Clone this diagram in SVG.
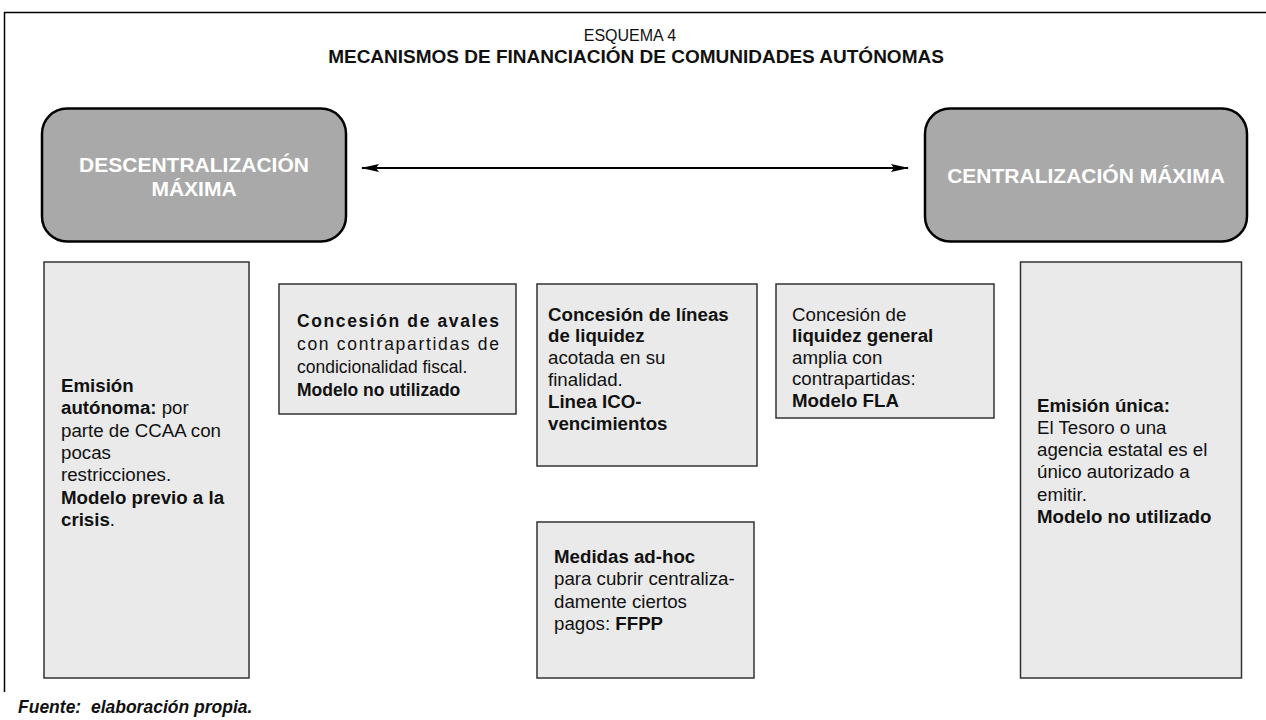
<svg xmlns="http://www.w3.org/2000/svg" width="1266" height="720" viewBox="0 0 1266 720">
<defs>
<marker id="ah" viewBox="0 0 18 8" refX="17" refY="4" markerWidth="18" markerHeight="8" markerUnits="userSpaceOnUse" orient="auto-start-reverse">
<path d="M0,0 L18,4 L0,8 L3,4 Z" fill="#000"/>
</marker>
<style>
.t{font-family:"Liberation Sans",Arial,Helvetica,sans-serif;fill:#111;font-size:18.7px}
.s{font-size:17.5px}
.b{font-weight:bold}
.big{fill:#a9a9a9;stroke:#000;stroke-width:2.5}
.box{fill:#eaeaea;stroke:#333;stroke-width:1.5}
.w{font-family:"Liberation Sans",Arial,Helvetica,sans-serif;font-weight:bold;fill:#fff;font-size:21px}
</style>
</defs>
<rect width="1266" height="720" fill="#fff"/>
<path d="M4.5,692 V12.5 H1266" fill="none" stroke="#000" stroke-width="1.5"/>
<text class="t" x="630" y="41" text-anchor="middle" style="font-size:16px">ESQUEMA 4</text>
<text class="t b" x="636" y="63" text-anchor="middle" style="font-size:19px">MECANISMOS DE FINANCIACIÓN DE COMUNIDADES AUTÓNOMAS</text>
<g id="connectors">
<line x1="362" y1="168" x2="908" y2="168" stroke="#000" stroke-width="2" marker-start="url(#ah)" marker-end="url(#ah)"/>
</g>
<g id="descentralizacion">
<rect class="big" x="42" y="108.5" width="304" height="133" rx="25"/>
<text class="w" x="194" y="172" text-anchor="middle">DESCENTRALIZACIÓN</text>
<text class="w" x="194" y="196" text-anchor="middle">MÁXIMA</text>
</g>
<g id="centralizacion">
<rect class="big" x="925" y="108.5" width="322" height="133" rx="25"/>
<text class="w" x="1086" y="183" text-anchor="middle">CENTRALIZACIÓN MÁXIMA</text>
</g>
<g id="emision-autonoma">
<rect class="box" x="44" y="262" width="205" height="416"/>
<text class="t" x="61" y="392"><tspan class="b">Emisión</tspan><tspan x="61" dy="22.3"><tspan class="b">autónoma:</tspan> por</tspan><tspan x="61" dy="22.3">parte de CCAA con</tspan><tspan x="61" dy="22.3">pocas</tspan><tspan x="61" dy="22.3">restricciones.</tspan><tspan x="61" dy="22.3" class="b">Modelo previo a la</tspan><tspan x="61" dy="22.3"><tspan class="b">crisis</tspan>.</tspan></text>
</g>
<g id="avales">
<rect class="box" x="279" y="284" width="237" height="130"/>
<text class="t s b" x="297" y="327" textLength="202" lengthAdjust="spacing">Concesión de avales</text>
<text class="t s" x="297" y="350" textLength="202" lengthAdjust="spacing">con contrapartidas de</text>
<text class="t s" x="297" y="373">condicionalidad fiscal.</text>
<text class="t s b" x="297" y="396">Modelo no utilizado</text>
</g>
<g id="lineas-liquidez">
<rect class="box" x="537" y="284" width="220" height="182"/>
<text class="t" x="548" y="320.5"><tspan class="b">Concesión de líneas</tspan><tspan x="548" dy="21.9" class="b">de liquidez</tspan><tspan x="548" dy="21.9">acotada en su</tspan><tspan x="548" dy="21.9">finalidad.</tspan><tspan x="548" dy="21.9" class="b">Linea ICO-</tspan><tspan x="548" dy="21.9" class="b">vencimientos</tspan></text>
</g>
<g id="liquidez-general">
<rect class="box" x="776" y="284" width="218" height="134"/>
<text class="t" x="792" y="320.5">Concesión de<tspan x="792" dy="21.5" class="b">liquidez general</tspan><tspan x="792" dy="21.5">amplia con</tspan><tspan x="792" dy="21.5">contrapartidas:</tspan><tspan x="792" dy="21.5" class="b">Modelo FLA</tspan></text>
</g>
<g id="medidas-adhoc">
<rect class="box" x="537" y="522" width="217" height="156"/>
<text class="t" x="554" y="563"><tspan class="b">Medidas ad-hoc</tspan><tspan x="554" dy="22.3">para cubrir centraliza-</tspan><tspan x="554" dy="22.3">damente ciertos</tspan><tspan x="554" dy="22.3">pagos: <tspan class="b">FFPP</tspan></tspan></text>
</g>
<g id="emision-unica">
<rect class="box" x="1020.5" y="262" width="221" height="416"/>
<text class="t" x="1037" y="411.5"><tspan class="b">Emisión única:</tspan><tspan x="1037" dy="22.3">El Tesoro o una</tspan><tspan x="1037" dy="22.3">agencia estatal es el</tspan><tspan x="1037" dy="22.3">único autorizado a</tspan><tspan x="1037" dy="22.3">emitir.</tspan><tspan x="1037" dy="22.3" class="b">Modelo no utilizado</tspan></text>
</g>
<text class="t b" x="18" y="713" xml:space="preserve" style="font-style:italic;font-size:17.5px;white-space:pre">Fuente:  elaboración propia.</text>
</svg>
